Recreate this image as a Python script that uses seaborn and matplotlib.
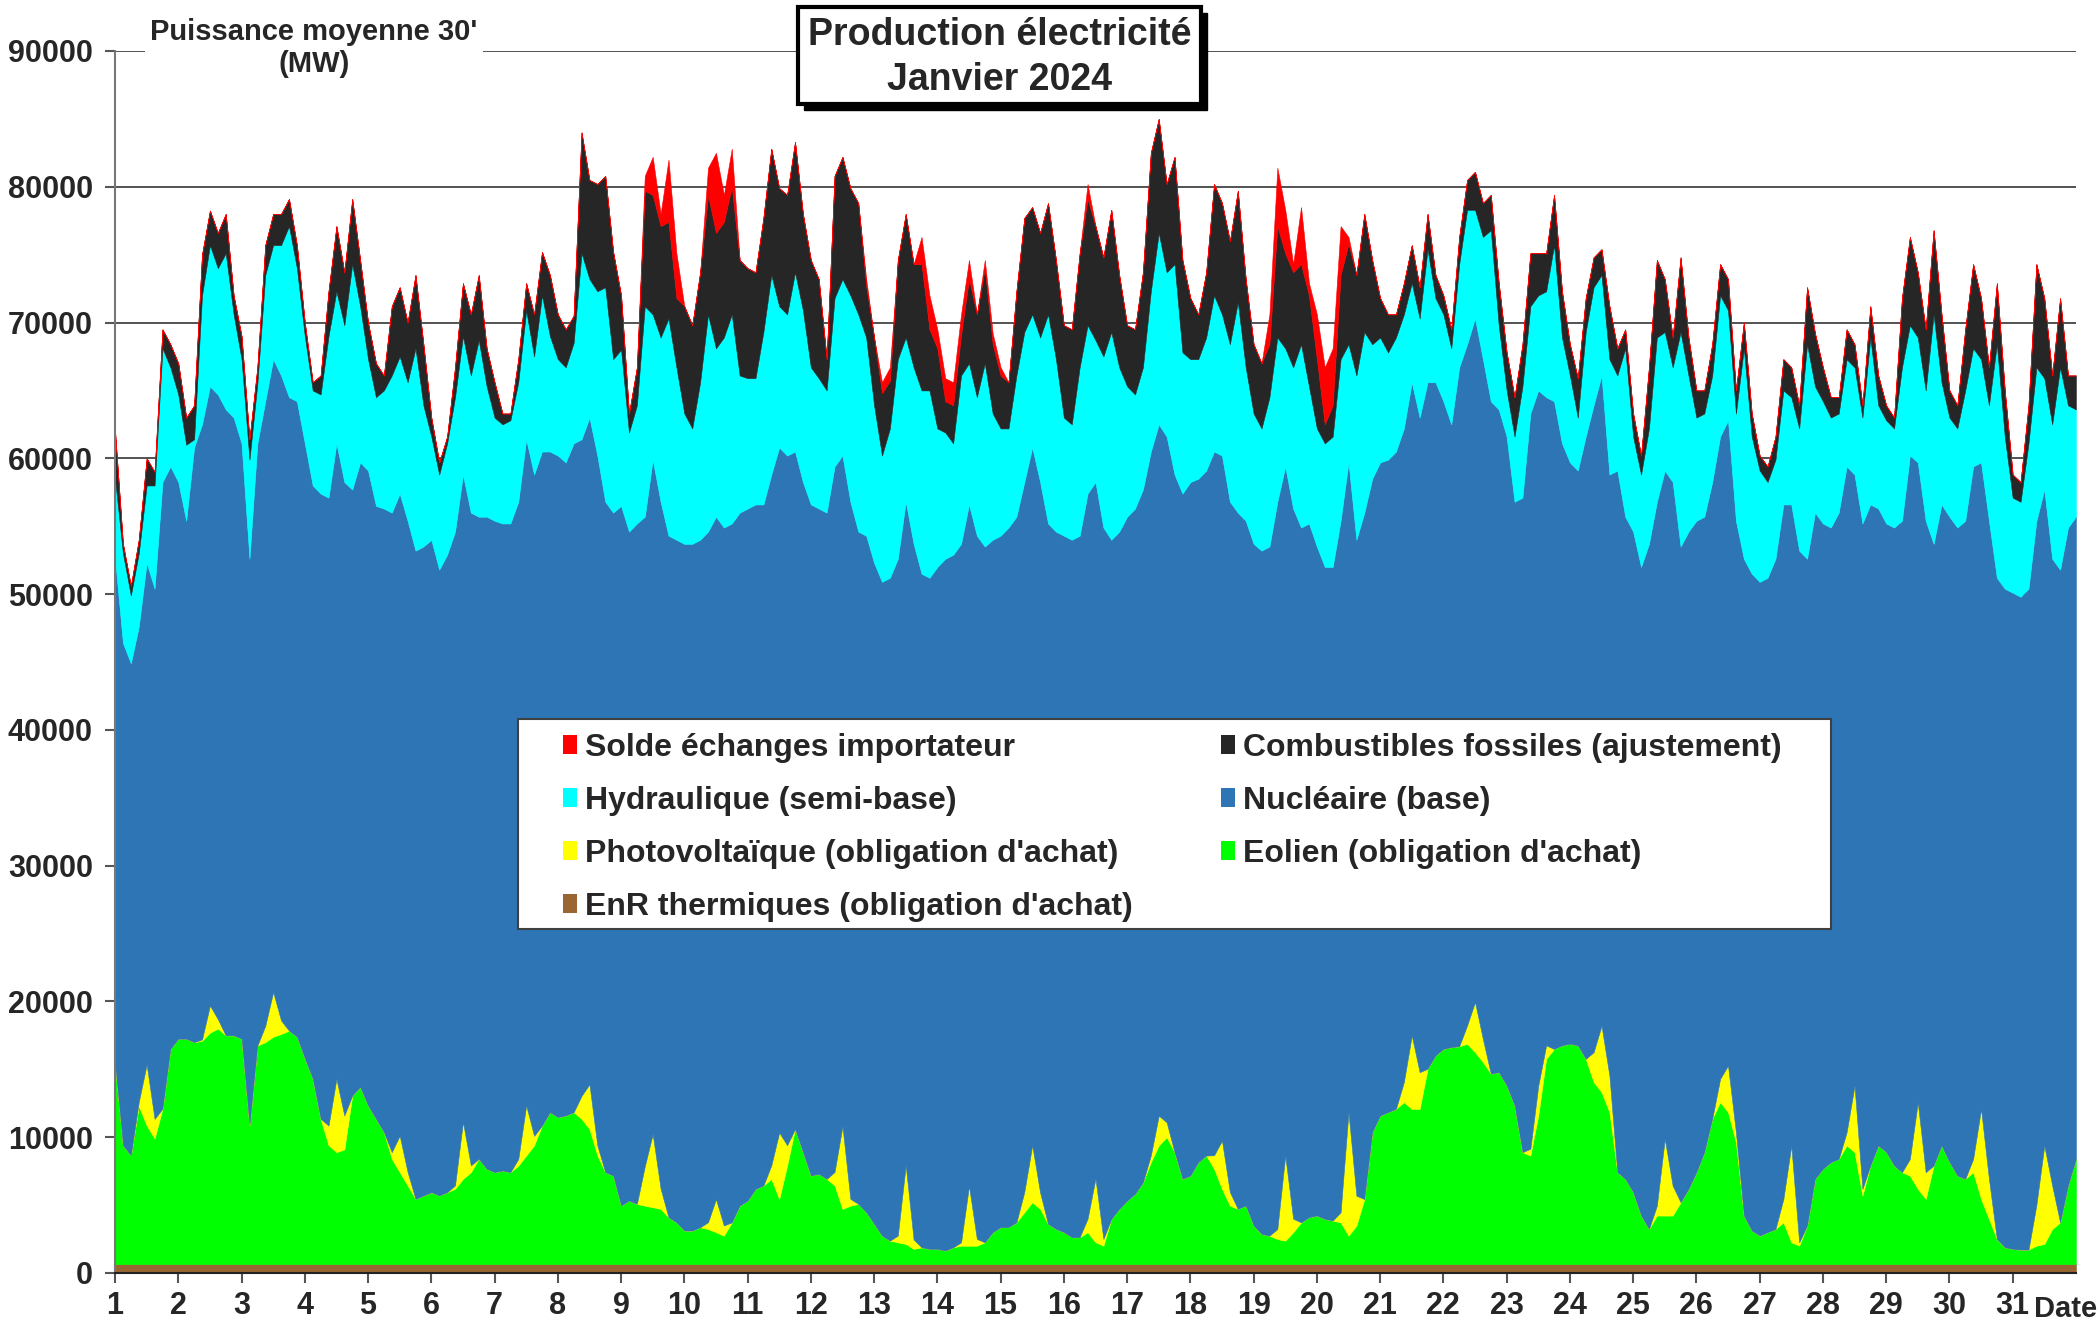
import numpy as np
import matplotlib
matplotlib.use("Agg")
import matplotlib.pyplot as plt
from matplotlib.patches import Patch, Rectangle
import seaborn as sns

# releves toutes les 3 h (0h 3h 6h 9h 12h 15h 18h 21h), une ligne par jour de janvier,
# derniere valeur = 1er fevrier 0h. Valeurs en MW.

# haut de la pile complete (avec solde importateur)
niveau_total = [
    62000, 53700, 50600, 54000, 60000, 59000, 69500, 68400,  # 1
    67000, 63000, 63900, 75000, 78250, 76600, 78000, 72000,  # 2
    69000, 61400, 66700, 75700, 78000, 78000, 79100, 75700,  # 3
    70000, 65600, 66100, 72300, 77100, 73700, 79100, 74600,  # 4
    70000, 67000, 66100, 71200, 72600, 70000, 73500, 68400,  # 5
    63000, 59700, 61600, 66700, 72900, 70600, 73500, 68100,  # 6
    65600, 63300, 63300, 67300, 72900, 70600, 75200, 73500,  # 7
    70600, 69500, 70500, 84000, 80500, 80200, 80800, 75200,  # 8
    72000, 63300, 66700, 80800, 82200, 78000, 82000, 75100,  # 9
    71200, 69800, 73700, 81400, 82500, 79400, 82800, 74600,  # 10
    74000, 73700, 77700, 82800, 79900, 79400, 83300, 78000,  # 11
    74600, 73200, 67300, 80800, 82200, 79900, 78800, 73200,  # 12
    68900, 65600, 66700, 74600, 78000, 74300, 76300, 72000,  # 13
    69500, 65900, 65600, 70600, 74600, 70600, 74600, 69200,  # 14
    66700, 65600, 72300, 77700, 78500, 76600, 78800, 74600,  # 15
    69800, 69500, 75100, 80200, 77100, 74800, 78300, 73500,  # 16
    69800, 69500, 73700, 82500, 85000, 80200, 82200, 74600,  # 17
    71800, 70600, 73700, 80200, 78800, 76000, 79700, 73200,  # 18
    68400, 67000, 70600, 81400, 78300, 74300, 78500, 72900,  # 19
    70600, 66700, 68100, 77100, 76300, 73500, 78000, 74600,  # 20
    71800, 70600, 70600, 72900, 75700, 72600, 78000, 73500,  # 21
    72000, 69500, 76300, 80500, 81100, 78800, 79400, 72900,  # 22
    67800, 64500, 68400, 75100, 75100, 75100, 79400, 72300,  # 23
    68400, 65900, 71800, 74800, 75400, 71200, 68100, 69500,  # 24
    63300, 60200, 66700, 74600, 73200, 68900, 74800, 68900,  # 25
    65000, 65000, 68400, 74300, 73200, 65000, 70000, 63300,  # 26
    60200, 59400, 61600, 67300, 66700, 63900, 72600, 69200,  # 27
    66700, 64500, 64500, 69500, 68400, 63900, 71200, 66100,  # 28
    63900, 63000, 71800, 76300, 73700, 69500, 76800, 70600,  # 29
    65000, 63900, 69500, 74300, 71800, 66700, 72900, 65000,  # 30
    58800, 58250, 63900, 74300, 71800, 66100, 71800, 66100,  # 31
    66100,
]

# solde des echanges quand la France importe
solde_import = [
    0, 0, 0, 0, 0, 0, 0, 0,  # 1
    0, 0, 0, 0, 0, 0, 0, 0,  # 2
    0, 0, 0, 0, 0, 0, 0, 0,  # 3
    0, 0, 0, 0, 0, 0, 0, 0,  # 4
    0, 0, 0, 0, 0, 0, 0, 0,  # 5
    0, 0, 0, 0, 0, 0, 0, 0,  # 6
    0, 0, 0, 0, 0, 0, 0, 0,  # 7
    0, 0, 0, 0, 0, 0, 0, 0,  # 8
    0, 0, 0, 1100, 2800, 900, 4600, 3300,  # 9
    0, 0, 0, 2000, 5900, 2000, 2800, 0,  # 10
    0, 0, 0, 0, 0, 0, 0, 0,  # 11
    0, 0, 0, 0, 0, 0, 0, 500,  # 12
    0, 800, 1000, 0, 0, 0, 2000, 2500,  # 13
    1400, 1700, 1700, 1500, 1400, 0, 600, 800,  # 14
    600, 0, 0, 0, 0, 0, 0, 0,  # 15
    0, 0, 0, 1100, 0, 0, 0, 0,  # 16
    0, 0, 0, 0, 0, 0, 0, 0,  # 17
    0, 0, 0, 0, 0, 0, 0, 0,  # 18
    0, 0, 2200, 4300, 3200, 600, 4200, 900,  # 19
    3300, 4200, 4200, 3600, 500, 0, 0, 0,  # 20
    0, 0, 0, 0, 0, 0, 0, 0,  # 21
    0, 0, 0, 0, 0, 0, 0, 0,  # 22
    0, 0, 0, 0, 0, 0, 0, 0,  # 23
    0, 0, 0, 0, 0, 0, 0, 0,  # 24
    0, 0, 0, 0, 0, 0, 0, 0,  # 25
    0, 0, 0, 0, 0, 0, 0, 0,  # 26
    0, 0, 0, 0, 0, 0, 0, 0,  # 27
    0, 0, 0, 0, 0, 0, 0, 0,  # 28
    0, 0, 0, 0, 0, 0, 0, 0,  # 29
    0, 0, 0, 0, 0, 0, 0, 0,  # 30
    0, 0, 0, 0, 0, 0, 0, 0,  # 31
    0,
]

# haut de l'hydraulique (bas des fossiles)
niveau_hydro = [
    58500, 53000, 49900, 53000, 58000, 58000, 68100, 66700,  # 1
    64700, 61000, 61400, 72000, 75700, 74000, 75100, 70600,  # 2
    67300, 59900, 65500, 73500, 75700, 75700, 77100, 74000,  # 3
    69000, 65000, 64700, 69000, 72300, 69800, 74300, 71200,  # 4
    67300, 64500, 65000, 66100, 67500, 65600, 68100, 63900,  # 5
    61600, 58800, 61100, 64500, 69000, 66100, 68700, 65300,  # 6
    63000, 62500, 62800, 65600, 70900, 67500, 72000, 69000,  # 7
    67300, 66700, 68500, 75100, 73200, 72300, 72600, 67300,  # 8
    68000, 61900, 63900, 71200, 70600, 68900, 70300, 66700,  # 9
    63300, 62200, 65600, 70600, 68100, 68900, 70600, 66100,  # 10
    65900, 65900, 69300, 73500, 71200, 70600, 73700, 70900,  # 11
    66700, 65900, 65000, 71800, 73200, 72000, 70600, 68900,  # 12
    63900, 60200, 62200, 67300, 68900, 66700, 65000, 65000,  # 13
    62200, 61900, 61100, 66100, 67000, 64500, 67000, 63300,  # 14
    62200, 62200, 66100, 69300, 70600, 68900, 70600, 67300,  # 15
    63000, 62500, 66700, 69800, 68700, 67500, 69300, 66700,  # 16
    65300, 64700, 66700, 72300, 76600, 73700, 74300, 67800,  # 17
    67300, 67300, 68900, 72000, 70600, 68400, 71500, 66700,  # 18
    63300, 62200, 64500, 68900, 68100, 66700, 68400, 65300,  # 19
    62200, 61100, 61600, 67300, 68400, 66100, 69300, 68400,  # 20
    68900, 67800, 68900, 70600, 72900, 70300, 75400, 71800,  # 21
    70600, 68100, 74300, 78300, 78300, 76300, 76800, 69800,  # 22
    65000, 61600, 65300, 71200, 72000, 72300, 75700, 68900,  # 23
    66100, 63000, 69300, 72600, 73500, 67300, 66100, 68100,  # 24
    61600, 58800, 62200, 68900, 69300, 66700, 69300, 66100,  # 25
    63000, 63300, 66100, 72000, 70900, 63300, 68100, 61600,  # 26
    59100, 58250, 59900, 65000, 64500, 62200, 68400, 65300,  # 27
    64200, 63000, 63300, 67300, 66700, 63000, 68900, 63900,  # 28
    62800, 62200, 66700, 69800, 68900, 65000, 70600, 65600,  # 29
    63000, 62200, 65000, 68100, 67300, 63900, 68400, 61600,  # 30
    57100, 56800, 61100, 66700, 65900, 62500, 66700, 63900,  # 31
    63600,
]

# haut du nucleaire
niveau_nucleaire = [
    52600, 46400, 44900, 47600, 52300, 50400, 58250, 59400,  # 1
    58250, 55400, 60800, 62500, 65300, 64700, 63600, 63000,  # 2
    61100, 52600, 61100, 64200, 67300, 66100, 64500, 64200,  # 3
    61100, 58000, 57400, 57100, 61100, 58250, 57700, 59700,  # 4
    59100, 56500, 56300, 56000, 57400, 55400, 53200, 53500,  # 5
    54000, 51800, 52900, 54600, 58800, 56000, 55700, 55700,  # 6
    55400, 55200, 55200, 56800, 61400, 58800, 60500, 60500,  # 7
    60200, 59700, 61100, 61400, 63000, 60200, 56800, 56000,  # 8
    56500, 54600, 55200, 55700, 59900, 56800, 54300, 54000,  # 9
    53700, 53700, 54000, 54600, 55700, 54900, 55200, 56000,  # 10
    56300, 56600, 56600, 58800, 60800, 60200, 60500, 58250,  # 11
    56600, 56300, 56000, 59400, 60200, 56800, 54600, 54300,  # 12
    52300, 50900, 51200, 52600, 56800, 53700, 51500, 51200,  # 13
    52000, 52600, 52900, 53700, 56600, 54300, 53500, 54000,  # 14
    54300, 54900, 55700, 58250, 60800, 58250, 55200, 54600,  # 15
    54300, 54000, 54300, 57400, 58250, 54900, 54000, 54600,  # 16
    55700, 56300, 57700, 60500, 62500, 61600, 58800, 57400,  # 17
    58250, 58500, 59100, 60500, 60200, 56800, 56000, 55400,  # 18
    53700, 53200, 53500, 56800, 59400, 56300, 54900, 55200,  # 19
    53500, 52000, 52000, 55400, 59700, 54000, 56000, 58500,  # 20
    59700, 59900, 60500, 62200, 65600, 63000, 65600, 65600,  # 21
    64200, 62500, 66700, 68400, 70300, 67300, 64200, 63600,  # 22
    61600, 56800, 57100, 63300, 65000, 64500, 64200, 61100,  # 23
    59700, 59100, 61600, 63900, 66100, 58800, 59100, 55700,  # 24
    54600, 52000, 53700, 56800, 59100, 58250, 53500, 54600,  # 25
    55400, 55700, 58250, 61600, 62800, 55400, 52600, 51500,  # 26
    50900, 51200, 52600, 56600, 56600, 53200, 52600, 56000,  # 27
    55200, 54900, 56000, 59400, 58800, 55200, 56600, 56300,  # 28
    55200, 54900, 55400, 60200, 59700, 55400, 53700, 56600,  # 29
    55700, 54900, 55400, 59400, 59700, 55400, 51200, 50400,  # 30
    50100, 49800, 50400, 55400, 57700, 52600, 51800, 54900,  # 31
    55700,
]

# haut de l'eolien (EnR thermiques comprises)
niveau_eolien = [
    15400, 9400, 8650, 12300, 10860, 9900, 12100, 16500,  # 1
    17250, 17250, 17000, 17100, 17700, 18000, 17500, 17500,  # 2
    17250, 10860, 16750, 17000, 17400, 17600, 17850, 17400,  # 3
    15800, 14300, 11350, 9400, 8900, 9100, 13070, 13700,  # 4
    12330, 11350, 10370, 8400, 7420, 6440, 5450, 5700,  # 5
    5950, 5700, 5950, 6200, 6930, 7420, 8400, 7670,  # 6
    7420, 7540, 7420, 7900, 8650, 9400, 10860, 11840,  # 7
    11470, 11600, 11840, 11350, 10600, 8650, 7420, 7170,  # 8
    4960, 5330, 5090, 4960, 4840, 4720, 4100, 3730,  # 9
    3120, 3120, 3370, 3240, 3000, 2750, 3730, 4960,  # 10
    5330, 6190, 6440, 6930, 5450, 7910, 10610, 8900,  # 11
    7170, 7300, 6930, 6440, 4720, 4960, 5090, 4470,  # 12
    3610, 2750, 2380, 2260, 2140, 1770, 1890, 1770,  # 13
    1770, 1650, 1890, 2010, 2010, 2010, 2260, 3000,  # 14
    3370, 3370, 3730, 4470, 5210, 4720, 3610, 3240,  # 15
    3000, 2630, 2630, 3000, 2260, 2010, 3980, 4720,  # 16
    5330, 5820, 6680, 8160, 9390, 10000, 8900, 6930,  # 17
    7170, 8160, 8650, 7670, 6190, 4960, 4720, 4960,  # 18
    3490, 2870, 2750, 2500, 2380, 3000, 3730, 4100,  # 19
    4230, 3980, 3860, 3730, 2750, 3490, 5450, 10370,  # 20
    11600, 11840, 12090, 12580, 12090, 12090, 15040, 16020,  # 21
    16500, 16630, 16700, 16880, 16260, 15530, 14670, 14790,  # 22
    13810, 12330, 8900, 8650, 11600, 15770, 16500, 16760,  # 23
    16880, 16760, 15770, 14060, 13320, 11840, 7420, 6930,  # 24
    5950, 4230, 3240, 4230, 4230, 4230, 5210, 6190,  # 25
    7420, 8900, 11350, 12580, 11840, 9630, 4230, 3120,  # 26
    2750, 3000, 3240, 3730, 2260, 2010, 3490, 6930,  # 27
    7670, 8160, 8400, 9390, 8900, 5700, 7910, 9390,  # 28
    8900, 7910, 7420, 7170, 6190, 5450, 7910, 9390,  # 29
    8160, 7170, 6930, 7420, 5450, 3980, 2500, 1890,  # 30
    1770, 1720, 1720, 2010, 2140, 3240, 3730, 6440,  # 31
    8400,
]

# photovoltaique (epaisseur de la bande jaune)
photovoltaique = [
    0, 0, 0, 300, 4500, 1450, 0, 0,  # 1
    0, 0, 0, 100, 2000, 700, 0, 0,  # 2
    0, 0, 0, 1200, 3300, 1000, 0, 0,  # 3
    0, 0, 0, 1460, 5400, 2500, 0, 0,  # 4
    0, 0, 0, 500, 2700, 1000, 0, 0,  # 5
    0, 0, 0, 250, 4200, 500, 0, 0,  # 6
    0, 0, 0, 500, 3700, 700, 0, 0,  # 7
    0, 0, 0, 1700, 3300, 750, 0, 0,  # 8
    0, 0, 0, 2900, 5400, 1500, 0, 0,  # 9
    0, 0, 0, 500, 2450, 750, 0, 0,  # 10
    0, 0, 0, 1000, 4900, 1500, 0, 0,  # 11
    0, 0, 0, 1000, 6100, 500, 0, 0,  # 12
    0, 0, 0, 500, 5800, 700, 0, 0,  # 13
    0, 0, 0, 250, 4400, 500, 0, 0,  # 14
    0, 0, 0, 1500, 4200, 1200, 0, 0,  # 15
    0, 0, 0, 1000, 4700, 500, 0, 0,  # 16
    0, 0, 0, 500, 2200, 1100, 0, 0,  # 17
    0, 0, 0, 1000, 3560, 1000, 0, 0,  # 18
    0, 0, 0, 740, 6270, 1000, 0, 0,  # 19
    0, 0, 0, 740, 9090, 2200, 0, 0,  # 20
    0, 0, 0, 1480, 5400, 2700, 0, 0,  # 21
    0, 0, 0, 1350, 3700, 1700, 0, 0,  # 22
    0, 0, 0, 500, 2200, 1000, 0, 0,  # 23
    0, 0, 0, 2200, 4900, 2700, 0, 0,  # 24
    0, 0, 0, 730, 5650, 2200, 0, 0,  # 25
    0, 0, 0, 1720, 3440, 740, 0, 0,  # 26
    0, 0, 0, 1720, 7130, 250, 0, 0,  # 27
    0, 0, 0, 980, 4900, 490, 0, 0,  # 28
    0, 0, 0, 1230, 6390, 1970, 0, 0,  # 29
    0, 0, 0, 980, 6640, 2950, 0, 0,  # 30
    0, 0, 0, 3000, 7250, 3200, 0, 0,  # 31
    0,
]

ENR_THERMIQUE = 650  # bande brune quasi constante

jours = [str(j) for j in range(1, 32)]

couleurs = {"Solde échanges importateur": "#FF0000",
            "Combustibles fossiles (ajustement)": "#262626",
            "Hydraulique (semi-base)": "#00FFFF",
            "Nucléaire (base)": "#2E75B6",
            "Photovoltaïque (obligation d'achat)": "#FFFF00",
            "Eolien (obligation d'achat)": "#00FF00",
            "EnR thermiques (obligation d'achat)": "#996633"}

# passage des niveaux lus aux productions de chaque filiere
total = np.array(niveau_total, dtype=float)
imp = np.array(solde_import, dtype=float)
n_hyd = np.array(niveau_hydro, dtype=float)
n_nuc = np.array(niveau_nucleaire, dtype=float)
n_eol = np.array(niveau_eolien, dtype=float)
pv = np.array(photovoltaique, dtype=float)
thermique = np.full_like(total, ENR_THERMIQUE)
eolien = n_eol - thermique
nucleaire = n_nuc - n_eol - pv
hydraulique = n_hyd - n_nuc
fossile = total - imp - n_hyd
t = np.arange(len(total)) / 8.0  # en jours depuis le 1er janvier 0h

sns.set_theme(style="white")
plt.rcParams['font.family'] = ['Liberation Sans', 'DejaVu Sans']
plt.rcParams['font.weight'] = 'bold'

fig = plt.figure(figsize=(20.99, 13.27), dpi=100)
ax = fig.add_axes([0.0548, 0.0407, 0.9342, 0.9209])

pile = [thermique, eolien, pv, nucleaire, hydraulique, fossile, imp]
ordre = ["EnR thermiques (obligation d'achat)", "Eolien (obligation d'achat)",
         "Photovoltaïque (obligation d'achat)", "Nucléaire (base)",
         "Hydraulique (semi-base)", "Combustibles fossiles (ajustement)",
         "Solde échanges importateur"]
polys = ax.stackplot(t, *pile, colors=[couleurs[o] for o in ordre], linewidth=0.4)
for p in polys:
    p.set_edgecolor('face')

ax.set_xlim(0, 31)
ax.set_ylim(0, 90000)
ax.set_yticks(range(0, 90001, 10000))
ax.set_yticklabels([str(v) for v in range(0, 90001, 10000)])
ax.set_xticks(range(31))
ax.set_xticklabels(jours)
ax.yaxis.grid(True, color='#444444', linewidth=1.3)
ax.set_axisbelow(True)
sns.despine(ax=ax, top=True, right=True)
ax.spines['left'].set_color('#777777')
ax.spines['left'].set_linewidth(1.5)
ax.spines['bottom'].set_color('#222222')
ax.spines['bottom'].set_linewidth(1.5)
ax.tick_params(axis='both', which='major', direction='out', length=7, width=1.5,
               color='#555555', labelsize=22, bottom=True, left=True)
ax.tick_params(axis='x', pad=6)
ax.tick_params(axis='y', pad=9)
for lab in ax.get_xticklabels() + ax.get_yticklabels():
    lab.set_fontweight('bold')

# cadre de la legende
ax.add_patch(Rectangle((0.2055, 0.2815), 0.6695, 0.1718, transform=ax.transAxes,
                       facecolor='white', edgecolor='#404040', linewidth=1.5, zorder=5))
ordre_leg = ["Solde échanges importateur", "Hydraulique (semi-base)",
             "Photovoltaïque (obligation d'achat)", "EnR thermiques (obligation d'achat)",
             "Combustibles fossiles (ajustement)", "Nucléaire (base)",
             "Eolien (obligation d'achat)"]
handles = [Patch(facecolor=couleurs[l], edgecolor='none', label=l) for l in ordre_leg]
leg = ax.legend(handles=handles, loc='upper left', bbox_to_anchor=(0.2285, 0.4420),
                ncol=2, frameon=False, prop={'size': 23, 'weight': 'bold'},
                handlelength=0.45, handleheight=0.55, handletextpad=0.25,
                columnspacing=2.75, labelspacing=0.72, borderpad=0, borderaxespad=0)
leg.set_zorder(6)

# titre encadre avec ombre
fig.patches.append(Rectangle((0.3830, 0.9171), 0.1920, 0.0731, transform=fig.transFigure,
                             facecolor='black', edgecolor='black', zorder=10))
fig.patches.append(Rectangle((0.3802, 0.9216), 0.1920, 0.0731, transform=fig.transFigure,
                             facecolor='white', edgecolor='black', linewidth=3, zorder=11))
fig.text(0.4762, 0.9740, "Production électricité", ha='center', va='center',
         fontsize=27, fontweight='bold', zorder=12)
fig.text(0.4762, 0.9400, "Janvier 2024", ha='center', va='center',
         fontsize=27, fontweight='bold', zorder=12)

fig.text(314 / 2099, 1 - 48 / 1327, "Puissance moyenne 30'\n(MW)", ha='center', va='center',
         fontsize=21, fontweight='bold', linespacing=1.15,
         bbox=dict(facecolor='white', edgecolor='none', pad=4), zorder=12)
fig.text(0.999, 1 - 1309 / 1327, "Date", ha='right', va='center',
         fontsize=21, fontweight='bold')

fig.savefig("out.png", dpi=100)
